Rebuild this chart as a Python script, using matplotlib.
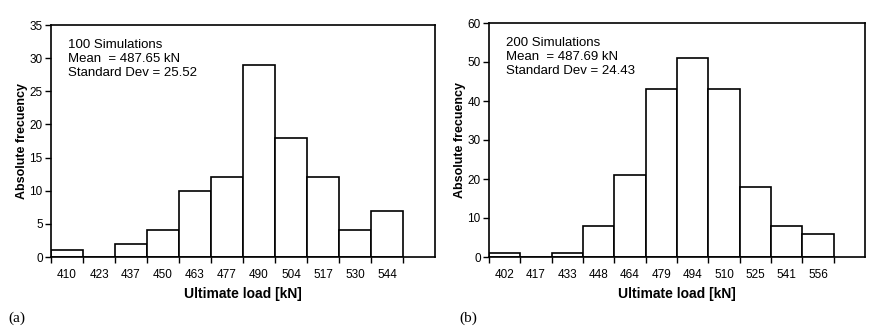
import numpy as np
import matplotlib.pyplot as plt

plt.rcParams['font.family'] = ['Liberation Sans', 'DejaVu Sans']

# ----------------------------
# data
# ----------------------------
labels_a = ['410', '423', '437', '450', '463', '477', '490', '504', '517', '530', '544']
counts_a = [1, 0, 2, 4, 10, 12, 29, 18, 12, 4, 7]
text_a = "100 Simulations\nMean  = 487.65 kN\nStandard Dev = 25.52"

labels_b = ['402', '417', '433', '448', '464', '479', '494', '510', '525', '541', '556']
counts_b = [1, 0, 1, 8, 21, 43, 51, 43, 18, 8, 6]
text_b = "200 Simulations\nMean  = 487.69 kN\nStandard Dev = 24.43"


def histogram(ax, labels, counts, ymax, ystep, note):
    n = len(labels)
    ax.bar(np.arange(n), counts, width=1, align='edge',
           facecolor='white', edgecolor='black', linewidth=1.2)
    ax.set_xlim(0, n + 1)
    ax.set_ylim(0, ymax)
    ax.set_yticks(np.arange(0, ymax + 1, ystep))
    ax.set_xticks(np.arange(n + 1))
    ax.set_xticklabels([])
    ax.set_xticks(np.arange(n) + 0.5, minor=True)
    ax.set_xticklabels(labels, minor=True)
    ax.tick_params(axis='x', which='major', length=4, width=1, direction='out')
    ax.tick_params(axis='x', which='minor', length=0, pad=9, labelsize=8.5)
    ax.tick_params(axis='y', length=4, width=1, labelsize=8.5, pad=2)
    for s in ax.spines.values():
        s.set_linewidth(1.2)
    ax.set_xlabel("Ultimate load [kN]", fontsize=10, fontweight='bold', labelpad=4)
    ax.set_ylabel("Absolute frecuency", fontsize=9, fontweight='bold', labelpad=1)
    ax.text(0.045, 0.94, note, transform=ax.transAxes, fontsize=9.5,
            va='top', ha='left', linespacing=1.2)


fig = plt.figure(figsize=(8.69, 3.29), dpi=100)
ax1 = fig.add_axes([51 / 869, 1 - 257 / 329, 384 / 869, 232 / 329])
ax2 = fig.add_axes([489 / 869, 1 - 257 / 329, 376 / 869, 234 / 329])

histogram(ax1, labels_a, counts_a, 35, 5, text_a)
histogram(ax2, labels_b, counts_b, 60, 10, text_b)

fig.text(8 / 869, 1 - 318 / 329, "(a)", family='Liberation Serif', fontsize=11, va='center')
fig.text(459 / 869, 1 - 318 / 329, "(b)", family='Liberation Serif', fontsize=11, va='center')

fig.savefig("out.png", dpi=100)
